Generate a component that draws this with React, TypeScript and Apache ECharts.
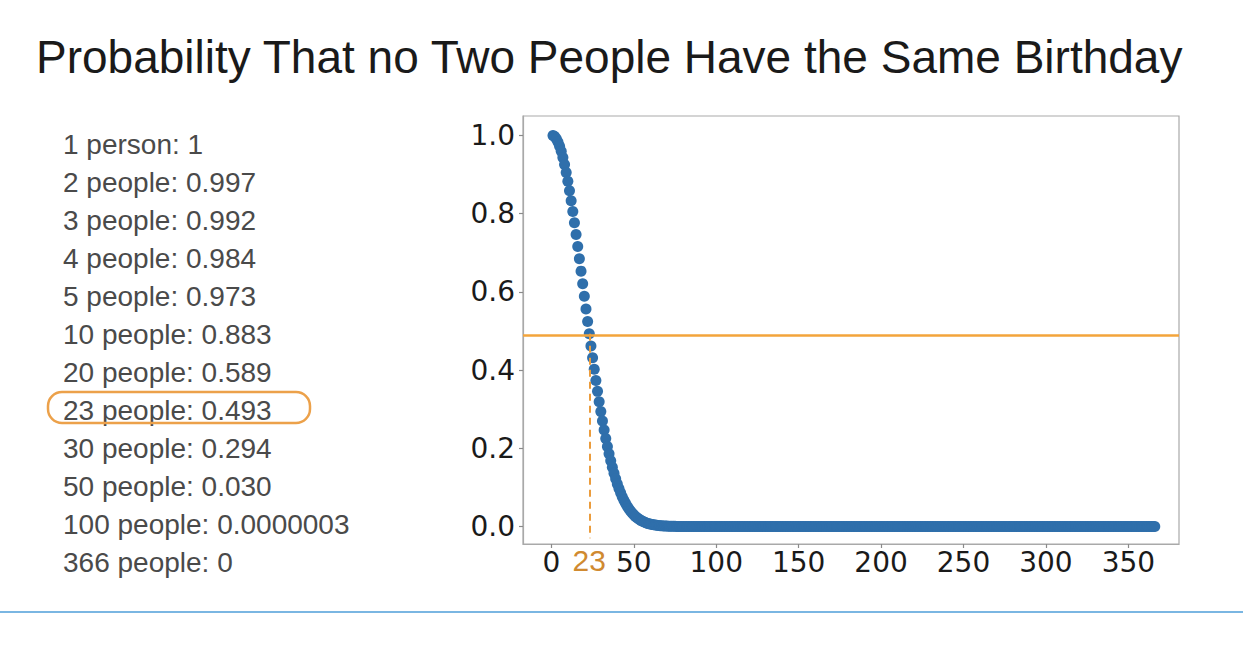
import React, { useEffect, useRef } from 'react';
import * as echarts from 'echarts';

const titleText = 'Probability That no Two People Have the Same Birthday';

const summaryLines = [
  '1 person: 1',
  '2 people: 0.997',
  '3 people: 0.992',
  '4 people: 0.984',
  '5 people: 0.973',
  '10 people: 0.883',
  '20 people: 0.589',
  '23 people: 0.493',
  '30 people: 0.294',
  '50 people: 0.030',
  '100 people: 0.0000003',
  '366 people: 0',
];
const highlightedLineIndex = 7;

const xTicks = [0, 50, 100, 150, 200, 250, 300, 350];
const yTicks = [0, 0.2, 0.4, 0.6, 0.8, 1.0];
const highlightN = 23;
const highlightP = 0.493;

// probability that no two of n people (n = 1..366) share a birthday
const probNoShared: number[] = [
  1, 0.9973, 0.9918, 0.9836, 0.9729, 0.9595, 0.9438, 0.9257, 0.9054, 0.8831,
  0.8589, 0.833, 0.8056, 0.7769, 0.7471, 0.7164, 0.685, 0.6531, 0.6209, 0.5886,
  0.5563, 0.5243, 0.4927, 0.4617, 0.4313, 0.4018, 0.3731, 0.3455, 0.319, 0.2937,
  0.2695, 0.2467, 0.225, 0.2047, 0.1856, 0.1678, 0.1513, 0.1359, 0.1218, 0.1088,
  0.0968, 0.086, 0.0761, 0.0671, 0.059, 0.0518, 0.0452, 0.0394, 0.0342, 0.0296,
  0.0256, 0.022, 0.0189, 0.0161, 0.0137, 0.0117, 0.0099, 0.0083, 0.007, 0.0059,
  0.0049, 0.0041, 0.0034, 0.0028, 0.0023, 0.0019, 0.0016, 0.0013, 0.001, 0.0008,
  0.0007, 0.0005, 0.0004, 0.0004, 0.0003,
  0,0,0,0,0,0,0,0,0,0, 0,0,0,0,0,0,0,0,0,0, 0,0,0,0,0,0,0,0,0,0,
  0,0,0,0,0,0,0,0,0,0, 0,0,0,0,0,0,0,0,0,0, 0,0,0,0,0,0,0,0,0,0,
  0,0,0,0,0,0,0,0,0,0, 0,0,0,0,0,0,0,0,0,0, 0,0,0,0,0,0,0,0,0,0,
  0,0,0,0,0,0,0,0,0,0, 0,0,0,0,0,0,0,0,0,0, 0,0,0,0,0,0,0,0,0,0,
  0,0,0,0,0,0,0,0,0,0, 0,0,0,0,0,0,0,0,0,0, 0,0,0,0,0,0,0,0,0,0,
  0,0,0,0,0,0,0,0,0,0, 0,0,0,0,0,0,0,0,0,0, 0,0,0,0,0,0,0,0,0,0,
  0,0,0,0,0,0,0,0,0,0, 0,0,0,0,0,0,0,0,0,0, 0,0,0,0,0,0,0,0,0,0,
  0,0,0,0,0,0,0,0,0,0, 0,0,0,0,0,0,0,0,0,0, 0,0,0,0,0,0,0,0,0,0,
  0,0,0,0,0,0,0,0,0,0, 0,0,0,0,0,0,0,0,0,0, 0,0,0,0,0,0,0,0,0,0,
  0,0,0,0,0,0,0,0,0,0, 0,0,0,0,0,0,0,0,0,0, 0,
];

const SANS = 'Liberation Sans, Arial, sans-serif';
const MPL = 'DejaVu Sans, sans-serif';

export default function App() {
  const ref = useRef<HTMLDivElement>(null);

  useEffect(() => {
    if (!ref.current) return;
    const chart = echarts.init(ref.current, null, { renderer: 'svg' });
    const points = probNoShared.map((p, i) => [i + 1, p]);

    const listX = 63;
    const listY0 = 144;
    const listStep = 38;
    const hlY = listY0 + listStep * highlightedLineIndex;

    chart.setOption({
      animation: false,
      backgroundColor: '#ffffff',
      grid: {
        left: 523,
        top: 116,
        width: 656,
        height: 428,
        show: true,
        borderColor: '#a9a9a9',
        borderWidth: 1.2,
        containLabel: false,
      },
      xAxis: {
        type: 'value',
        min: -17.2,
        max: 380.7,
        splitLine: { show: false },
        axisLine: { show: true, onZero: false, lineStyle: { color: '#a9a9a9', width: 1.2 } },
        axisTick: {
          show: true,
          length: 4,
          customValues: xTicks,
          lineStyle: { color: '#8a8a8a', width: 1.2 },
        },
        axisLabel: {
          customValues: [...xTicks.slice(0, 1), highlightN, ...xTicks.slice(1)],
          margin: 4,
          fontSize: 28,
          fontFamily: MPL,
          color: '#1a1a1a',
          hideOverlap: false,
          formatter: (v: number) => (v === highlightN ? `{hl|${v}}` : `${v}`),
          rich: {
            hl: { fontSize: 30, lineHeight: 24, fontFamily: SANS, color: '#d08a30' },
          },
        },
      },
      yAxis: {
        type: 'value',
        min: -0.045,
        max: 1.05,
        splitLine: { show: false },
        axisLine: { show: true, onZero: false, lineStyle: { color: '#a9a9a9', width: 1.2 } },
        axisTick: {
          show: true,
          length: 4,
          customValues: yTicks,
          lineStyle: { color: '#8a8a8a', width: 1.2 },
        },
        axisLabel: {
          customValues: yTicks,
          margin: 8,
          fontSize: 28,
          fontFamily: MPL,
          color: '#1a1a1a',
          formatter: (v: number) => v.toFixed(1),
        },
      },
      series: [
        {
          type: 'scatter',
          data: points,
          symbol: 'circle',
          symbolSize: 11,
          itemStyle: { color: '#2f6fab', opacity: 1 },
          silent: true,
          markLine: {
            silent: true,
            symbol: ['none', 'none'],
            label: { show: false },
            data: [
              {
                yAxis: highlightP,
                lineStyle: { type: 'solid', color: '#f3a43b', width: 2.5 },
              },
              [
                {
                  coord: [highlightN, highlightP],
                  lineStyle: { type: [7, 5], color: '#eb9c3c', width: 2 },
                },
                { coord: [highlightN, -0.03] },
              ],
            ],
          },
        },
      ],
      graphic: [
        {
          type: 'text',
          x: 36,
          y: 57,
          style: {
            text: titleText,
            fontSize: 46,
            fontFamily: SANS,
            fill: '#1a1a1a',
            textAlign: 'left',
            textVerticalAlign: 'middle',
          },
        },
        ...summaryLines.map((t, i) => ({
          type: 'text',
          x: listX,
          y: listY0 + listStep * i,
          style: {
            text: t,
            fontSize: 28,
            fontFamily: SANS,
            fill: '#4a4a4a',
            textAlign: 'left',
            textVerticalAlign: 'middle',
          },
        })),
        {
          type: 'rect',
          shape: { x: 48, y: hlY - 18, width: 262, height: 31, r: 14 },
          style: { fill: 'none', stroke: '#eca14a', lineWidth: 2.5 },
        },
        {
          type: 'line',
          shape: { x1: 0, y1: 612, x2: 1243, y2: 612 },
          style: { stroke: '#7ab6e2', lineWidth: 2 },
        },
      ],
    });

    return () => chart.dispose();
  }, []);

  return (
    <div
      ref={ref}
      style={{ position: 'fixed', left: 0, top: 0, width: 1260, height: 649, background: '#fff' }}
    />
  );
}
